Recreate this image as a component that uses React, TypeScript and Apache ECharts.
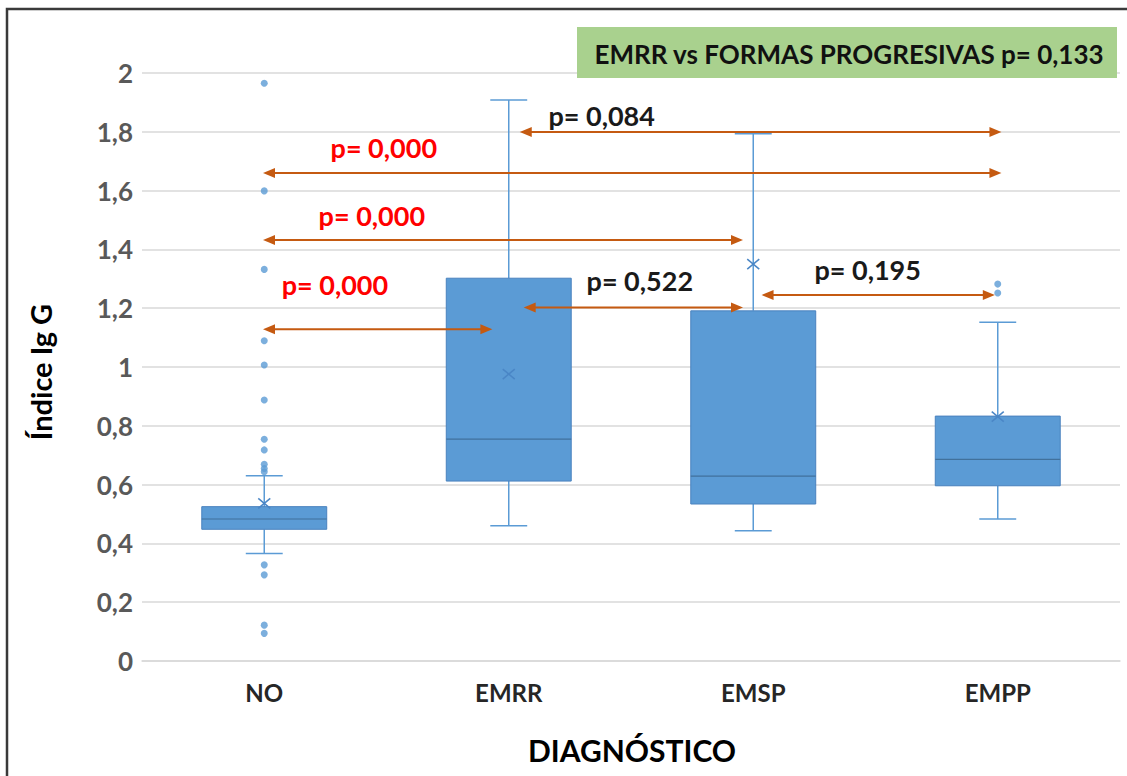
import React, { useEffect, useRef } from "react";
import * as echarts from "echarts";

// Índice IgG by diagnosis: box statistics per group
const categories = ["NO", "EMRR", "EMSP", "EMPP"];
const whiskerLow = [0.366, 0.46, 0.443, 0.483];
const quartile1 = [0.448, 0.612, 0.534, 0.596];
const medians = [0.483, 0.755, 0.629, 0.686];
const quartile3 = [0.525, 1.302, 1.191, 0.833];
const whiskerHigh = [0.63, 1.908, 1.793, 1.152];
const means = [0.536, 0.976, 1.35, 0.831];

// Outlying values (NO and EMPP groups)
const outliersNO = [
  1.965, 1.599, 1.332, 1.089, 1.007, 0.888, 0.754, 0.718, 0.669, 0.655, 0.644,
  0.327, 0.293, 0.122, 0.094,
];
const outliersEMPP = [1.282, 1.252];

// Pairwise comparisons (positions on the group scale: 0 = NO ... 3 = EMPP)
const compFrom = [1.045, -0.005, -0.005, -0.005, 1.061, 2.034];
const compTo = [3.015, 3.015, 1.958, 0.933, 1.958, 2.988];
const compLevel = [1.799, 1.66, 1.432, 1.128, 1.202, 1.245];
const compText = ["p= 0,084", "p= 0,000", "p= 0,000", "p= 0,000", "p= 0,522", "p= 0,195"];
const compSignificant = [false, true, true, true, false, false];
const compLabelX = [1.38, 0.489, 0.44, 0.289, 1.536, 2.468];
const compLabelY = [1.857, 1.745, 1.514, 1.282, 1.293, 1.33];

const overallText = "EMRR vs FORMAS PROGRESIVAS p= 0,133";
const yAxisTitle = "Índice Ig G";
const xAxisTitle = "DIAGNÓSTICO";

const FONT = "Lato, 'Open Sans', sans-serif";
const BOX_FILL = "#5B9BD5";
const BOX_EDGE = "#4A82BE";
const ARROW = "#C55A11";

export default function App() {
  const ref = useRef<HTMLDivElement>(null);

  useEffect(() => {
    if (!ref.current) return;
    const chart = echarts.init(ref.current, undefined, { renderer: "svg" });

    const boxData = categories.map((_, i) => [
      i,
      whiskerLow[i],
      quartile1[i],
      medians[i],
      quartile3[i],
      whiskerHigh[i],
      means[i],
    ]);

    const outlierData = [
      ...outliersNO.map((v) => [0, v]),
      ...outliersEMPP.map((v) => [3, v]),
    ];

    const compData = compFrom.map((f, i) => [
      f,
      compTo[i],
      compLevel[i],
      compLabelX[i],
      compLabelY[i],
      i,
    ]);

    const option: any = {
      animation: false,
      backgroundColor: "#ffffff",
      grid: { left: 142, right: 7, top: 73, bottom: 115, containLabel: false },
      xAxis: [
        {
          type: "category",
          data: categories,
          boundaryGap: true,
          axisLine: { show: true, lineStyle: { color: "#D9D9D9", width: 1.5 } },
          axisTick: { show: false },
          splitLine: { show: false },
          axisLabel: {
            color: "#262626",
            fontFamily: FONT,
            fontWeight: "bold",
            fontSize: 24,
            margin: 19,
          },
        },
        {
          type: "value",
          min: -0.5,
          max: 3.5,
          show: false,
        },
      ],
      yAxis: {
        type: "value",
        min: 0,
        max: 2,
        interval: 0.2,
        axisLine: { show: false },
        axisTick: { show: false },
        splitLine: { lineStyle: { color: "#D9D9D9", width: 1.5 } },
        axisLabel: {
          color: "#595959",
          fontFamily: FONT,
          fontWeight: "bold",
          fontSize: 26,
          margin: 9,
          formatter: (v: number) => String(Number(v.toFixed(1))).replace(".", ","),
        },
      },
      series: [
        {
          type: "custom",
          name: "box",
          xAxisIndex: 0,
          data: boxData,
          z: 3,
          renderItem: (params: any, api: any) => {
            const i = api.value(0);
            const band = api.size([1, 0])[0];
            const boxW = band * 0.511;
            const capW = band * 0.151;
            const pLow = api.coord([i, api.value(1)]);
            const pQ1 = api.coord([i, api.value(2)]);
            const pMed = api.coord([i, api.value(3)]);
            const pQ3 = api.coord([i, api.value(4)]);
            const pHigh = api.coord([i, api.value(5)]);
            const pMean = api.coord([i, api.value(6)]);
            const cx = pMed[0];
            const wStyle = { stroke: BOX_FILL, lineWidth: 1.5 };
            return {
              type: "group",
              children: [
                { type: "line", shape: { x1: cx, y1: pQ3[1], x2: cx, y2: pHigh[1] }, style: wStyle },
                { type: "line", shape: { x1: cx - capW / 2, y1: pHigh[1], x2: cx + capW / 2, y2: pHigh[1] }, style: wStyle },
                { type: "line", shape: { x1: cx, y1: pQ1[1], x2: cx, y2: pLow[1] }, style: wStyle },
                { type: "line", shape: { x1: cx - capW / 2, y1: pLow[1], x2: cx + capW / 2, y2: pLow[1] }, style: wStyle },
                {
                  type: "rect",
                  shape: { x: cx - boxW / 2, y: pQ3[1], width: boxW, height: pQ1[1] - pQ3[1] },
                  style: { fill: BOX_FILL, stroke: BOX_EDGE, lineWidth: 1 },
                },
                {
                  type: "line",
                  shape: { x1: cx - boxW / 2, y1: pMed[1], x2: cx + boxW / 2, y2: pMed[1] },
                  style: { stroke: "#41719C", lineWidth: 1.2 },
                },
                {
                  type: "line",
                  shape: { x1: cx - 6, y1: pMean[1] - 5, x2: cx + 6, y2: pMean[1] + 5 },
                  style: { stroke: "#4A86C6", lineWidth: 1.5 },
                },
                {
                  type: "line",
                  shape: { x1: cx - 6, y1: pMean[1] + 5, x2: cx + 6, y2: pMean[1] - 5 },
                  style: { stroke: "#4A86C6", lineWidth: 1.5 },
                },
              ],
            };
          },
        },
        {
          type: "scatter",
          name: "outliers",
          xAxisIndex: 0,
          data: outlierData,
          symbol: "circle",
          symbolSize: 7,
          itemStyle: { color: BOX_FILL },
          z: 4,
        },
        {
          type: "custom",
          name: "comparisons",
          xAxisIndex: 1,
          data: compData,
          z: 5,
          clip: false,
          renderItem: (params: any, api: any) => {
            const idx = api.value(5);
            const a = api.coord([api.value(0), api.value(2)]);
            const b = api.coord([api.value(1), api.value(2)]);
            const lab = api.coord([api.value(3), api.value(4)]);
            const y = a[1];
            const head = 12;
            const half = 5;
            return {
              type: "group",
              children: [
                {
                  type: "line",
                  shape: { x1: a[0] + head - 1, y1: y, x2: b[0] - head + 1, y2: y },
                  style: { stroke: ARROW, lineWidth: 2 },
                },
                {
                  type: "polygon",
                  shape: { points: [[a[0], y], [a[0] + head, y - half], [a[0] + head, y + half]] },
                  style: { fill: ARROW },
                },
                {
                  type: "polygon",
                  shape: { points: [[b[0], y], [b[0] - head, y - half], [b[0] - head, y + half]] },
                  style: { fill: ARROW },
                },
                {
                  type: "text",
                  x: lab[0],
                  y: lab[1],
                  style: {
                    text: compText[idx],
                    fill: compSignificant[idx] ? "#FF0000" : "#1A1A1A",
                    font: `bold 27px ${FONT}`,
                    textAlign: "center",
                    textVerticalAlign: "middle",
                  },
                },
              ],
            };
          },
        },
      ],
      graphic: [
        {
          type: "rect",
          shape: { x: 7, y: 9, width: 1140, height: 790 },
          style: { fill: "none", stroke: "#3A3A3A", lineWidth: 2.5 },
          silent: true,
        },
        {
          type: "rect",
          shape: { x: 577, y: 27, width: 540, height: 51 },
          style: { fill: "#A9D18E" },
          z: 10,
        },
        {
          type: "text",
          x: 849,
          y: 54,
          z: 11,
          style: {
            text: overallText,
            fill: "#111111",
            font: `bold 26px ${FONT}`,
            textAlign: "center",
            textVerticalAlign: "middle",
          },
        },
        {
          type: "text",
          x: 40,
          y: 372,
          rotation: Math.PI / 2,
          style: {
            text: yAxisTitle,
            fill: "#000000",
            font: `bold 29px ${FONT}`,
            textAlign: "center",
            textVerticalAlign: "middle",
          },
        },
        {
          type: "text",
          x: 632,
          y: 750,
          style: {
            text: xAxisTitle,
            fill: "#000000",
            font: `bold 30px ${FONT}`,
            textAlign: "center",
            textVerticalAlign: "middle",
          },
        },
      ],
    };

    chart.setOption(option);
    return () => chart.dispose();
  }, []);

  return (
    <div
      ref={ref}
      style={{ position: "absolute", left: 0, top: 0, width: 1127, height: 776 }}
    />
  );
}
